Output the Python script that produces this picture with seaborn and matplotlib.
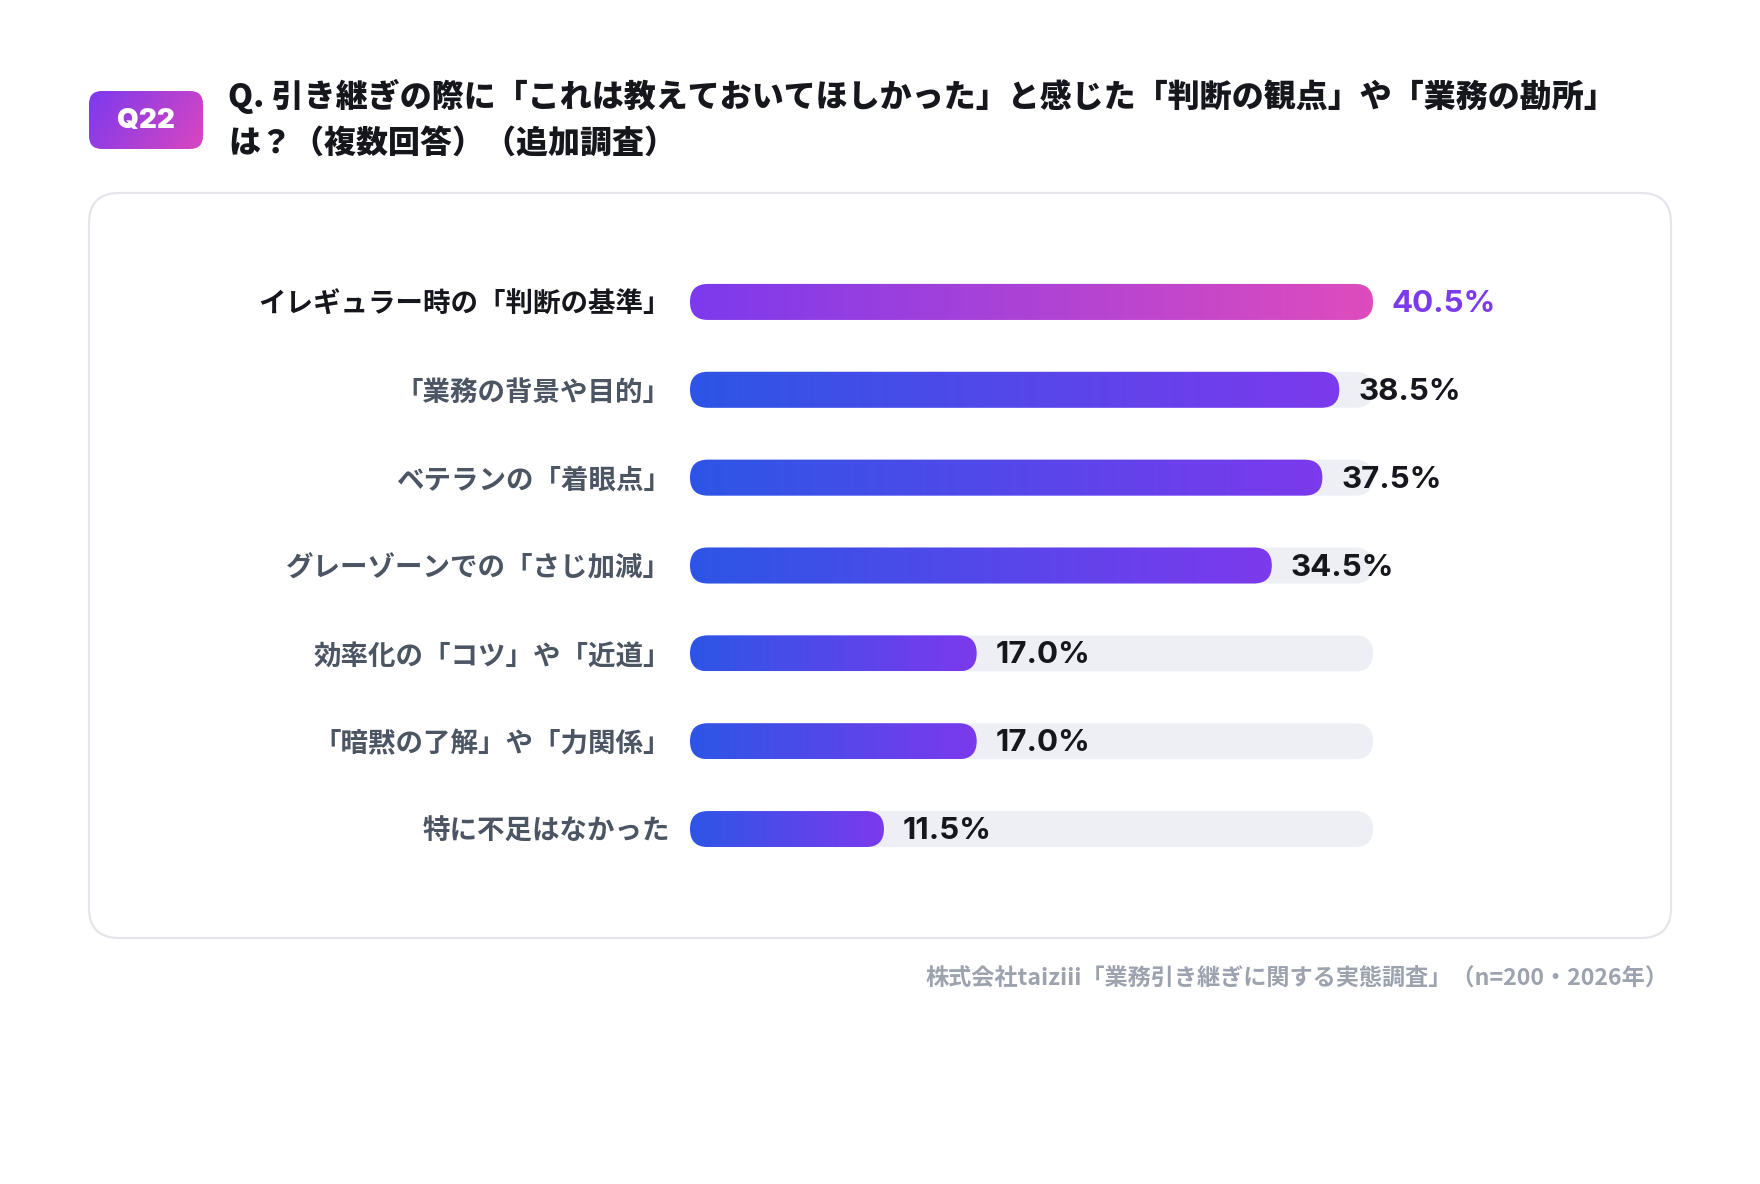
import matplotlib.pyplot as plt
import numpy as np
import seaborn as sns
from matplotlib.colors import LinearSegmentedColormap
from matplotlib.patches import FancyBboxPatch

# ── データ ──────────────────────────────────────────────
labels = [
    "イレギュラー時の「判断の基準」",
    "「業務の背景や目的」",
    "ベテランの「着眼点」",
    "グレーゾーンでの「さじ加減」",
    "効率化の「コツ」や「近道」",
    "「暗黙の了解」や「力関係」",
    "特に不足はなかった",
]
values = [40.5, 38.5, 37.5, 34.5, 17.0, 17.0, 11.5]
value_texts = ["40.5%", "38.5%", "37.5%", "34.5%", "17.0%", "17.0%", "11.5%"]

title_line1 = "Q. 引き継ぎの際に「これは教えておいてほしかった」と感じた「判断の観点」や「業務の勘所」"
title_line2 = "は？（複数回答）（追加調査）"
badge_text = "Q22"
source_text = "株式会社taiziii「業務引き継ぎに関する実態調査」（n=200・2026年）"

# ── スタイル ────────────────────────────────────────────
sns.set_theme(style="white")
JP = ["Noto Sans CJK JP", "DejaVu Sans"]
NUM = ["Inter", "Noto Sans CJK JP", "DejaVu Sans"]
plt.rcParams["font.family"] = JP

TRACK = "#eeeff5"
DARK = "#16161d"
GRAY = "#4b5563"
MUTED = "#9ca3af"
ACCENT = "#7c3aed"
cmap_top = LinearSegmentedColormap.from_list("top", ["#7c3aed", "#de4cbd"])
cmap_rest = LinearSegmentedColormap.from_list("rest", ["#2d55e6", "#7c3aed"])
cmap_badge = LinearSegmentedColormap.from_list("badge", ["#7c3aed", "#d946c0"])

W, H = 1760, 1184
fig = plt.figure(figsize=(W / 100, H / 100), dpi=100, facecolor="white")

# 背景用の軸（ピクセル座標）
bg = fig.add_axes([0, 0, 1, 1], zorder=0)
bg.set_xlim(0, W)
bg.set_ylim(H, 0)
bg.axis("off")

# カード
card = FancyBboxPatch(
    (89, 193), 1582, 745,
    boxstyle="round,pad=0,rounding_size=30",
    facecolor="white", edgecolor="#e4e6ec", linewidth=1.6,
)
bg.add_patch(card)

# バッジ（グラデーション）
badge = FancyBboxPatch(
    (89, 91), 114, 58,
    boxstyle="round,pad=0,rounding_size=13",
    facecolor="none", edgecolor="none",
)
bg.add_patch(badge)
gx, gy = np.meshgrid(np.linspace(0, 1, 64), np.linspace(0, 1, 32))
im = bg.imshow(
    gx * 0.75 + gy * 0.25, extent=[89, 203, 149, 91], cmap=cmap_badge,
    aspect="auto", origin="upper", zorder=1,
)
im.set_clip_path(badge)
bg.text(146, 121, badge_text, color="white", fontsize=20, fontweight="black",
        family=NUM, ha="center", va="center", zorder=2)
bg.set_xlim(0, W)
bg.set_ylim(H, 0)

# タイトル
bg.text(228, 96, title_line1, fontsize=23, fontweight="heavy", color=DARK,
        ha="left", va="center", family=JP)
bg.text(228, 143, title_line2, fontsize=23, fontweight="heavy", color=DARK,
        ha="left", va="center", family=JP)

# 出典
bg.text(1668, 979, source_text, fontsize=16.7, fontweight="bold", color=MUTED,
        ha="right", va="center", family=JP)

# ── 棒グラフ ────────────────────────────────────────────
ax_l, ax_r = 690, 1373
ax_top, ax_bot = 258, 873
ax = fig.add_axes([ax_l / W, 1 - ax_bot / H, (ax_r - ax_l) / W, (ax_bot - ax_top) / H], zorder=1)
ax.patch.set_alpha(0)

vmax = max(values)
track = [vmax] * len(values)
sns.barplot(x=track, y=labels, orient="h", color=TRACK, width=0.41, ax=ax)
sns.barplot(x=values, y=labels, orient="h", color="#5b46ea", width=0.41, ax=ax)

ax.set_xlim(0, vmax)
ax.set_ylim(len(values) - 0.5, -0.5)

xpp = vmax / (ax_r - ax_l)
ypp = len(values) / (ax_bot - ax_top)
r_px = 18

n = len(values)
patches = list(ax.patches)
for i, p in enumerate(patches):
    x0, y0 = p.get_x(), p.get_y()
    w, h = p.get_width(), p.get_height()
    p.remove()
    rounded = FancyBboxPatch(
        (x0, y0), w, h,
        boxstyle=f"round,pad=0,rounding_size={r_px * xpp}",
        mutation_aspect=ypp / xpp,
        facecolor=TRACK if i < n else "none", edgecolor="none",
    )
    ax.add_patch(rounded)
    if i >= n:
        k = i - n
        cm = cmap_top if k == 0 else cmap_rest
        grad = np.linspace(0, 1, 256).reshape(1, -1)
        g = ax.imshow(grad, extent=[x0, x0 + w, y0 + h, y0], cmap=cm,
                      aspect="auto", zorder=2)
        g.set_clip_path(rounded)

ax.set_xlim(0, vmax)
ax.set_ylim(len(values) - 0.5, -0.5)

# 数値ラベル
for k, (v, t) in enumerate(zip(values, value_texts)):
    ax.annotate(
        t, (v, k), xytext=(13.5, -1.5), textcoords="offset points",
        ha="left", va="center", fontsize=22.5, fontweight="bold",
        color=ACCENT if k == 0 else DARK, family=NUM,
    )

# 軸ラベル
ax.set_xlabel("")
ax.set_ylabel("")
ax.set_xticks([])
ax.tick_params(axis="y", length=0, pad=14)
for k, lab in enumerate(ax.get_yticklabels()):
    lab.set_fontsize(19.8)
    lab.set_fontweight("bold")
    lab.set_family(JP)
    lab.set_color(DARK if k == 0 else GRAY)
sns.despine(ax=ax, left=True, bottom=True)

fig.savefig("out.png", dpi=100, facecolor="white")
